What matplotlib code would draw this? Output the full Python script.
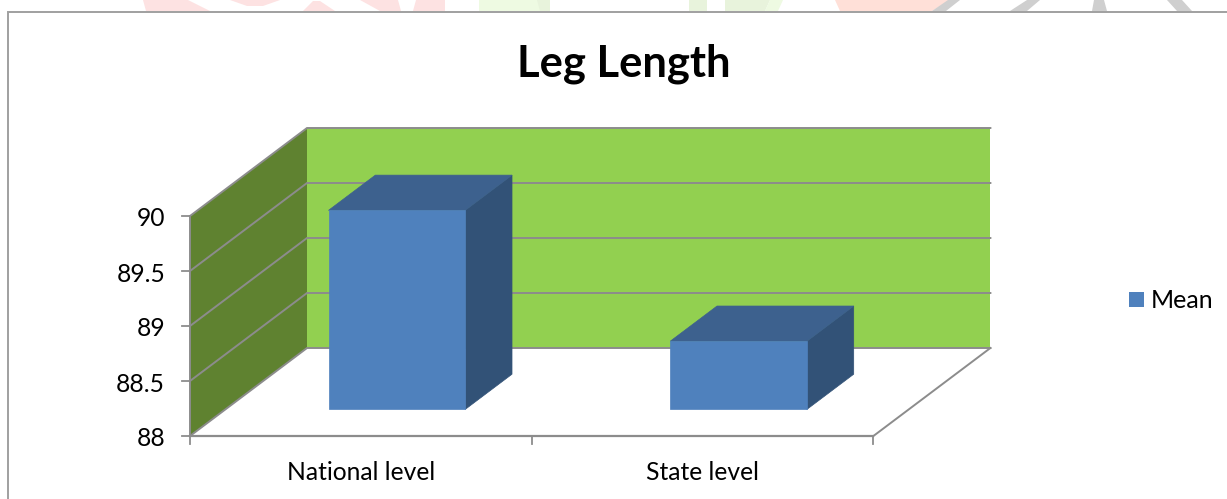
import matplotlib
matplotlib.use('Agg')
import matplotlib.pyplot as plt
from matplotlib.patches import Polygon, Rectangle

plt.rcParams['font.family'] = ['Lato', 'DejaVu Sans']

categories = ['National level', 'State level']
mean_values = [89.81, 88.62]
y_ticks = [88, 88.5, 89, 89.5, 90]
y_tick_labels = ['88', '88.5', '89', '89.5', '90']

# oblique projection of the 3D box, in figure pixels
X0, Y0 = 190.0, 436.0
CAT_W = 341.7
UNIT_H = 110.0
DEPTH_X, DEPTH_Y = 117.0, -88.0
BAR_GAP = 0.302
BAR_W = 0.40

# pale page decoration showing above the chart frame
page_shapes = [
    ('#fde2e2', [(143, 0), (188, 0), (210, 11), (146, 11)]),
    ('#fde2e2', [(230, 0), (280, 0), (263, 6), (247, 6)]),
    ('#fde2e2', [(313, 1), (320, 1), (335, 11), (303, 11)]),
    ('#fde2e2', [(360, 0), (398, 0), (401, 11), (380, 11)]),
    ('#fde2e2', [(416, 0), (445, 0), (445, 11), (413, 11)]),
    ('#eefae2', [(479, 0), (550, 0), (550, 11), (479, 11)]),
    ('#e8f3dc', [(537, 0), (550, 0), (550, 11), (540, 11)]),
    ('#e8f3dc', [(689, 0), (707, 0), (707, 11), (689, 11)]),
    ('#e8f3dc', [(725, 0), (770, 0), (765, 11), (725, 11)]),
    ('#eefae2', [(770, 0), (783, 0), (778, 11), (765, 11)]),
    ('#ffe0d8', [(835, 0), (950, 0), (932, 11), (840, 11)]),
    ('#cfcfcf', [(948, 0), (960, 0), (946, 11), (932, 11)]),
    ('#cfcfcf', [(1027, 0), (1040, 0), (1027, 11), (1010, 11)]),
    ('#cfcfcf', [(1094, 0), (1104, 0), (1107, 11), (1092, 11)]),
    ('#cfcfcf', [(1167, 0), (1182, 0), (1192, 11), (1177, 11)]),
]


def proj(cat, val, depth=0.0):
    return (X0 + cat * CAT_W + depth * DEPTH_X,
            Y0 - (val - y_ticks[0]) * UNIT_H + depth * DEPTH_Y)


fig = plt.figure(figsize=(12.27, 4.99), dpi=100)
ax = fig.add_axes([0, 0, 1, 1])
ax.set_xlim(0, 1227)
ax.set_ylim(499, 0)
ax.axis('off')

grey = '#8c8c8c'
n = len(categories)
vmin, vmax = y_ticks[0], y_ticks[-1]

for color, pts in page_shapes:
    ax.add_patch(Polygon(pts, fc=color, ec='none', zorder=0))

# walls
ax.add_patch(Polygon([proj(0, vmin, 1), proj(n, vmin, 1), proj(n, vmax, 1), proj(0, vmax, 1)],
                     fc='#92d050', ec='none', zorder=1))
ax.add_patch(Polygon([proj(0, vmin), proj(0, vmin, 1), proj(0, vmax, 1), proj(0, vmax)],
                     fc='#5f8230', ec='none', zorder=1))

# gridlines along side wall and back wall
for v in y_ticks:
    pts = [proj(0, v), proj(0, v, 1), proj(n, v, 1)]
    ax.plot(*zip(*pts), color=grey, lw=1.4, zorder=2, solid_joinstyle='miter')

# floor edge and axes
ax.plot(*zip(proj(n, vmin), proj(n, vmin, 1)), color=grey, lw=1.4, zorder=2)
ax.plot(*zip(proj(0, vmin), proj(n, vmin)), color=grey, lw=1.6, zorder=2)
ax.plot(*zip(proj(0, vmin), proj(0, vmax)), color=grey, lw=1.4, zorder=2)

for v, lab in zip(y_ticks, y_tick_labels):
    x, y = proj(0, v)
    ax.plot([x - 8, x], [y, y], color=grey, lw=1.3, zorder=2)
    ax.text(x - 25, y + 3, lab, ha='right', va='center', fontsize=17.7, color='#000000')

for i in range(n + 1):
    x, y = proj(i, vmin)
    ax.plot([x, x], [y, y + 8], color=grey, lw=1.3, zorder=2)

for i, lab in enumerate(categories):
    x, y = proj(i + 0.5, vmin)
    ax.text(x, 473, lab, ha='center', va='center', fontsize=17.7, color='#000000')

# bars: side, top and front faces
d0 = BAR_GAP
d1 = BAR_GAP + BAR_W
for i, val in enumerate(mean_values):
    c0 = i + BAR_GAP
    c1 = c0 + BAR_W
    ax.add_patch(Polygon([proj(c1, vmin, d0), proj(c1, vmin, d1), proj(c1, val, d1), proj(c1, val, d0)],
                         fc='#325277', ec='#325277', lw=0.5, zorder=3))
    ax.add_patch(Polygon([proj(c0, val, d0), proj(c1, val, d0), proj(c1, val, d1), proj(c0, val, d1)],
                         fc='#3d618e', ec='#3d618e', lw=0.5, zorder=3))
    ax.add_patch(Polygon([proj(c0, vmin, d0), proj(c1, vmin, d0), proj(c1, val, d0), proj(c0, val, d0)],
                         fc='#4f81bd', ec='#4f81bd', lw=0.5, zorder=4))

ax.text(623.5, 64, 'Leg Length', ha='center', va='center', fontsize=31.3, fontweight='bold', color='#000000')

# legend
ax.add_patch(Rectangle((1129, 292), 15, 15, fc='#4f81bd', ec='none', zorder=3))
ax.text(1151, 301, 'Mean', ha='left', va='center', fontsize=18, color='#000000')

# chart frame
ax.plot([8, 8, 1227], [499, 12, 12], color='#a0a0a0', lw=1.4, zorder=5, solid_joinstyle='miter')

fig.savefig('out.png', dpi=100)
